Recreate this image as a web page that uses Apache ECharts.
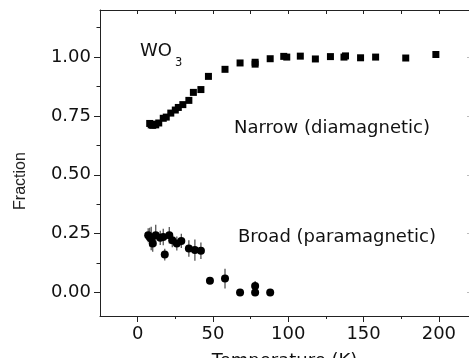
<!DOCTYPE html>
<html>
<head>
<meta charset="utf-8">
<script src="https://cdn.jsdelivr.net/npm/echarts@6/dist/echarts.min.js"></script>
<style>
  html, body { margin: 0; padding: 0; background: #fff; }
  #chart { width: 469px; height: 358px; }
</style>
</head>
<body>
<div id="chart"></div>
<script>
// narrow (diamagnetic) component
const narrowT = [8, 9, 10, 11, 12, 14, 17, 19, 22, 25, 27, 30, 34, 37, 42, 47, 58, 68, 78, 78, 88, 97, 99, 108, 118, 128, 137, 138, 148, 158, 178, 198];
const narrowFrac = [0.718, 0.712, 0.71, 0.715, 0.712, 0.72, 0.74, 0.745, 0.762, 0.775, 0.786, 0.798, 0.816, 0.85, 0.862, 0.918, 0.948, 0.975, 0.97, 0.978, 0.993, 1.003, 1.0, 1.004, 0.992, 1.002, 1.0, 1.005, 0.997, 1.0, 0.996, 1.011];

// broad (paramagnetic) component, with error bars
const broadT = [7, 8, 9, 10, 12, 15, 17, 18, 21, 23, 26, 29, 34, 38, 42, 48, 58, 68, 78, 78, 88];
const broadFrac = [0.243, 0.235, 0.229, 0.208, 0.243, 0.232, 0.236, 0.161, 0.243, 0.222, 0.208, 0.219, 0.187, 0.18, 0.177, 0.05, 0.059, 0, 0, 0.027, 0];
const broadErr = [0.03, 0.04, 0.05, 0.035, 0.045, 0.03, 0.035, 0.025, 0.035, 0.03, 0.03, 0.03, 0.035, 0.045, 0.035, 0, 0.042, 0, 0, 0.022, 0];

// ticks
const xMajor = [0, 50, 100, 150, 200];
const xMinor = [25, 75, 125, 175];
const xTop = [0, 25, 50, 75, 100, 125, 150, 175, 200];
const yMajor = [0, 0.25, 0.5, 0.75, 1.0];
const yMinor = [0.125, 0.375, 0.625, 0.875, 1.125];

const axisColor = '#222';
const font = 'DejaVu Sans';

const narrowData = narrowT.map((t, i) => [t, narrowFrac[i]]);
const broadData = broadT.map((t, i) => [t, broadFrac[i]]);
const errData = broadT.map((t, i) => [t, broadFrac[i], broadErr[i]]);

const chart = echarts.init(document.getElementById('chart'), null, { renderer: 'canvas' });

const xBase = { type: 'value', min: -25, max: 220, splitLine: { show: false } };
const yBase = { type: 'value', min: -0.1, max: 1.2, splitLine: { show: false } };

const option = {
  animation: false,
  grid: { left: 100, right: 0, top: 10, bottom: 42, containLabel: false, outerBoundsMode: 'none' },
  xAxis: [
    {
      ...xBase,
      position: 'bottom',
      axisLine: { show: true, onZero: false, lineStyle: { color: axisColor, width: 1 } },
      axisTick: { show: true, customValues: xMajor, length: 6, lineStyle: { color: axisColor } },
      axisLabel: { customValues: xMajor, fontFamily: font, fontSize: 18, color: '#111', margin: 9 },
      name: 'Temperature (K)',
      nameLocation: 'middle',
      nameGap: 36,
      nameTextStyle: { fontFamily: font, fontSize: 18, color: '#111' }
    },
    {
      ...xBase,
      position: 'bottom',
      axisLine: { show: false, onZero: false },
      axisTick: { show: true, customValues: xMinor, length: 3, lineStyle: { color: axisColor } },
      axisLabel: { show: false }
    },
    {
      ...xBase,
      position: 'top',
      axisLine: { show: true, onZero: false, lineStyle: { color: axisColor, width: 1 } },
      axisTick: { show: true, inside: true, customValues: xTop, length: 4, lineStyle: { color: axisColor } },
      axisLabel: { show: false }
    }
  ],
  yAxis: [
    {
      ...yBase,
      position: 'left',
      axisLine: { show: true, onZero: false, lineStyle: { color: axisColor, width: 1 } },
      axisTick: { show: true, customValues: yMajor, length: 6, lineStyle: { color: axisColor } },
      axisLabel: {
        customValues: yMajor,
        fontFamily: font,
        fontSize: 18,
        color: '#111',
        margin: 9,
        formatter: (v) => v.toFixed(2)
      }
    },
    {
      ...yBase,
      position: 'left',
      axisLine: { show: false, onZero: false },
      axisTick: { show: true, customValues: yMinor, length: 3.5, lineStyle: { color: axisColor } },
      axisLabel: { show: false }
    },
    {
      ...yBase,
      position: 'right',
      axisLine: { show: false, onZero: false },
      axisTick: { show: true, inside: true, customValues: yMajor, length: 2, lineStyle: { color: '#bbb' } },
      axisLabel: { show: false }
    }
  ],
  graphic: [
    // y axis title sits a bit below the axis middle in the original
    {
      type: 'text', x: 21, y: 181, rotation: Math.PI / 2,
      style: { text: 'Fraction', font: '16px "Liberation Sans"', fill: '#222', textAlign: 'center', textVerticalAlign: 'middle' }
    },
    { type: 'text', left: 140, top: 42, style: { text: 'WO', font: '18px "DejaVu Sans"', fill: '#111' } },
    { type: 'text', left: 175, top: 57, style: { text: '3', font: '11.5px "DejaVu Sans"', fill: '#111' } },
    { type: 'text', left: 234, top: 119, style: { text: 'Narrow (diamagnetic)', font: '18px "DejaVu Sans"', fill: '#111' } },
    { type: 'text', left: 238, top: 228, style: { text: 'Broad (paramagnetic)', font: '18px "DejaVu Sans"', fill: '#111' } }
  ],
  series: [
    {
      type: 'custom',
      name: 'error',
      xAxisIndex: 0,
      yAxisIndex: 0,
      z: 1,
      encode: { x: 0, y: 1 },
      data: errData,
      renderItem: (params, api) => {
        const e = api.value(2);
        if (!e) return null;
        const x = api.value(0);
        const y = api.value(1);
        const lo = api.coord([x, y - e]);
        const hi = api.coord([x, y + e]);
        return {
          type: 'line',
          shape: { x1: lo[0], y1: lo[1], x2: hi[0], y2: hi[1] },
          style: { stroke: '#555', lineWidth: 1.3 }
        };
      }
    },
    {
      type: 'scatter',
      name: 'Narrow',
      xAxisIndex: 0,
      yAxisIndex: 0,
      z: 3,
      symbol: 'rect',
      symbolSize: 7,
      itemStyle: { color: '#000', opacity: 1 },
      data: narrowData
    },
    {
      type: 'scatter',
      name: 'Broad',
      xAxisIndex: 0,
      yAxisIndex: 0,
      z: 3,
      symbol: 'circle',
      symbolSize: 8,
      itemStyle: { color: '#000', opacity: 1 },
      data: broadData
    }
  ]
};

chart.setOption(option);
window.addEventListener('resize', () => {
  chart.resize();
});
</script>
</body>
</html>
